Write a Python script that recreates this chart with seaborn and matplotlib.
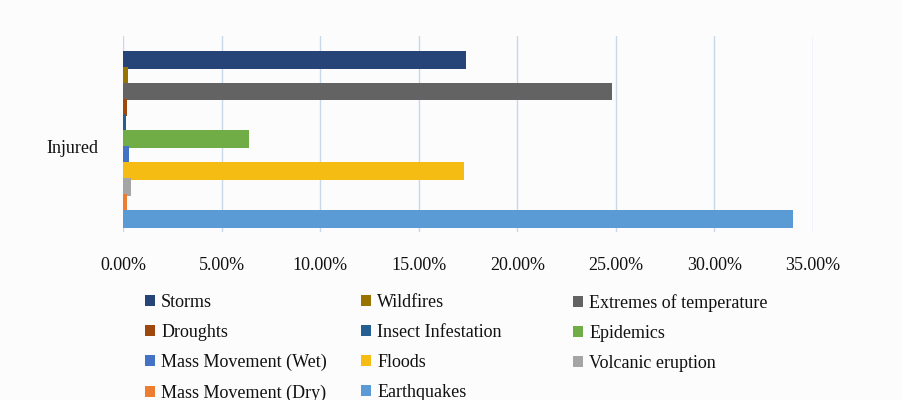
import pandas as pd
import seaborn as sns
import matplotlib.pyplot as plt
from matplotlib.patches import Patch
from matplotlib.transforms import ScaledTranslation

# series listed top to bottom as drawn
series = ['Storms', 'Wildfires', 'Extremes of temperature', 'Droughts',
          'Insect Infestation', 'Epidemics', 'Mass Movement (Wet)', 'Floods',
          'Volcanic eruption', 'Mass Movement (Dry)', 'Earthquakes']
injured = [17.4, 0.25, 24.8, 0.2, 0.15, 6.4, 0.3, 17.3, 0.4, 0.2, 34.0]
colors = ['#264478', '#997300', '#636363', '#9E480E', '#255E91', '#70AD47',
          '#4472C4', '#F5BC14', '#A5A5A5', '#ED7D31', '#5B9BD5']
ticks = [0, 5, 10, 15, 20, 25, 30, 35]

df = pd.DataFrame({'cat': ['Injured'] * len(series), 'series': series, 'value': injured})

sns.set_style('white')
plt.rcParams['font.family'] = ['Liberation Serif', 'DejaVu Serif']
plt.rcParams['text.color'] = '#111111'
plt.rcParams['xtick.color'] = '#111111'
plt.rcParams['ytick.color'] = '#111111'

bg = '#FCFCFD'
fig = plt.figure(figsize=(9.02, 4.0), dpi=100, facecolor=bg)
ax = fig.add_axes([123 / 902, 1 - 232 / 400, (813 - 123) / 902, 196 / 400])
ax.set_facecolor(bg)

sns.barplot(data=df, x='value', y='cat', hue='series', hue_order=series,
            palette=colors, saturation=1, orient='h', width=1.0, dodge=True,
            edgecolor='none', legend=False, ax=ax, zorder=3)

# make bars a touch thicker, like the 3D faces in the original
for bar in ax.patches:
    h = bar.get_height()
    bar.set_height(h * 1.12)
    bar.set_y(bar.get_y() - h * 0.06)

ax.set_xlim(0, 35)
ax.set_ylim(0.53, -0.59)
ax.set_xticks(ticks)
ax.set_xticklabels([f'{t:.2f}%' for t in ticks], fontsize=13)
ax.tick_params(axis='x', length=0, pad=18)
ax.tick_params(axis='y', length=0, pad=18, labelsize=13)
for lab in ax.get_yticklabels():
    lab.set_transform(lab.get_transform() + ScaledTranslation(0, -7 / 100, fig.dpi_scale_trans))
ax.grid(axis='x', color='#C8D8E6', linewidth=1, zorder=0)
ax.set_xlabel('')
ax.set_ylabel('')
for s in ax.spines.values():
    s.set_visible(False)

# legend: three columns, reading row by row
col_x = [145, 361, 573]
for k, x in enumerate(col_x):
    idx = list(range(k, len(series), 3))
    fig.legend([Patch(facecolor=colors[i], edgecolor='none') for i in idx],
               [series[i] for i in idx],
               loc='upper left', bbox_to_anchor=(x / 902, 1 - 294 / 400),
               frameon=False, fontsize=13, handlelength=0.55, handleheight=0.55,
               handletextpad=0.35, labelspacing=0.72, borderaxespad=0,
               borderpad=0)

fig.savefig('out.png', dpi=100, facecolor=fig.get_facecolor())
